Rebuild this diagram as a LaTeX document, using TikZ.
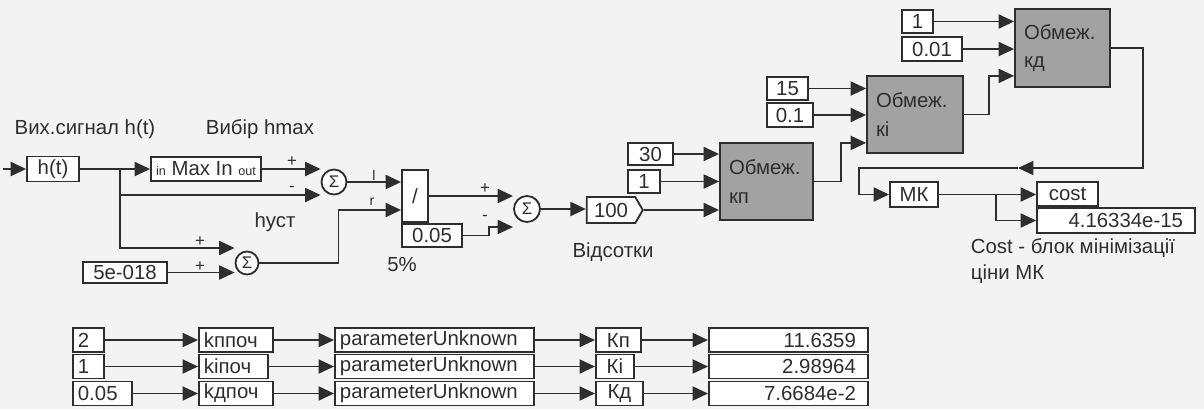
\documentclass[tikz,border=0pt]{standalone}
\usepackage{fontspec}
\setmainfont{Liberation Sans}
\usepackage{tikz}
\usetikzlibrary{arrows.meta,shapes.symbols}

\definecolor{bgc}{HTML}{F3F3F3}
\definecolor{lnc}{HTML}{2E2E2E}
\definecolor{blkgray}{HTML}{A2A2A2}
\newcommand{\pxu}{0.25mm}

\tikzset{
  bx/.style 2 args={draw=lnc, line width=1.3pt, fill=white, inner sep=0pt,
    minimum width=#1*\pxu, minimum height=#2*\pxu},
  blk/.style 2 args={bx={#1}{#2}, text width=(#1-10)*\pxu, align=center},
  disp/.style 2 args={bx={#1}{#2}, text width=(#1-24)*\pxu, align=right},
  obm/.style 2 args={bx={#1}{#2}, fill=blkgray, text width=(#1-18)*\pxu, align=left,
    font=\fontsize{14.5}{20}\selectfont},
  sumc/.style={draw=lnc, line width=1.3pt, fill=white, circle, inner sep=0pt,
    minimum size=#1*\pxu, font=\fontsize{12}{12}\selectfont},
  lbl/.style={inner sep=0pt},
  sgn/.style={inner sep=0pt, font=\fontsize{12}{12}\selectfont},
  port/.style={inner sep=0pt, font=\fontsize{10}{10}\selectfont}
}

\begin{document}
\begin{tikzpicture}[x=0.25mm, y=-0.25mm, color=lnc, line width=1.3pt,
    >={Triangle[length=11pt,width=10pt]}, font=\fontsize{14.5}{17}\selectfont]
  \fill[bgc] (0,0) rectangle (1204,409);
  \useasboundingbox (0,0) rectangle (1204,409);

  % signal, its maximum and the overshoot
  \node[lbl] (lbsig) at (85,129) {Вих.сигнал h(t)};
  \node[lbl] (lbmax) at (260,129) {Вибір hmax};
  \coordinate (hin) at (3,169);
  \coordinate (br) at (120,169);
  \node[blk={52}{25}] (ht) at (53,169) {h(t)};
  \node[bx={110}{24}] (mx) at (206,169)
    {{\fontsize{9}{9}\selectfont in} Max In {\fontsize{9}{9}\selectfont out}};
  \node[sumc=25] (sumA) at (334,182) {Σ};
  \node[sumc=23] (sumB) at (247,263) {Σ};
  \node[blk={84}{21}] (c5e) at (125,272.5) {5e-018};
  \node[lbl] (lbhust) at (275,222) {hуст};
  \node[blk={26}{52}] (dv) at (415,196) {/};
  \node[blk={60}{23}] (c005) at (432,235.5) {0.05};
  \node[lbl] (lbfive) at (402,265) {5\%};
  \node[sumc=26] (sumC) at (527,209) {Σ};
  \node[draw=lnc, fill=white, signal, signal to=east, signal pointer angle=120,
    inner sep=0pt, minimum width=56*\pxu, minimum height=26*\pxu] (pct) at (611,210) {100};
  \node[lbl] (lbvid) at (613,252) {Відсотки};

  \node[sgn] (pA1) at (292,162) {+};
  \node[sgn] (pA2) at (292,189) {-};
  \node[sgn] (pB1) at (200,242) {+};
  \node[sgn] (pB2) at (200,267) {+};
  \node[sgn] (pC1) at (485,189) {+};
  \node[sgn] (pC2) at (485,218) {-};
  \node[port] (pl) at (374,175) {l};
  \node[port] (pr) at (372,202) {r};

  \draw[->] (hin) -- (ht);
  \draw[->] (ht) -- (mx);
  \draw[->] (mx.east) -- (mx.east -| sumA.west);
  \draw[->] (br) |- ([yshift=-3.25mm]sumA.west);
  \draw[->] (br) |- ([yshift=3.75mm]sumB.west);
  \draw[->] (c5e) -- (c5e -| sumB.west);
  \draw[->] (sumB.east) -- ++(79,0) |- ([yshift=-3.5mm]dv.west);
  \draw[->] (sumA.east) -- (sumA.east -| dv.west);
  \draw[->] (dv.east) -- (dv.east -| sumC.west);
  \draw[->] (c005.east) -- ++(26,0) |- ([yshift=-4.5mm]sumC.west);
  \draw[->] (sumC.east) -- (sumC.east -| pct.west);

  % limit blocks and cost
  \node[blk={45}{22}] (c30) at (650.5,154) {30};
  \node[blk={32}{23}] (c1a) at (644,181.5) {1};
  \node[obm={93}{77}] (kp) at (766.5,181.5) {Обмеж.\\кп};
  \node[blk={41}{23}] (c15) at (787.5,88.5) {15};
  \node[blk={46}{24}] (c01) at (790,115) {0.1};
  \node[obm={96}{77}] (ki) at (915,114.5) {Обмеж.\\кі};
  \node[blk={31}{23}] (c1b) at (917.5,21.5) {1};
  \node[blk={60}{24}] (c001) at (932,49) {0.01};
  \node[obm={95}{78}] (kd) at (1062.5,48) {Обмеж.\\кд};
  \node[blk={48}{25}] (mk) at (914,194.5) {МК};
  \node[blk={61}{24}] (cost) at (1067.5,194) {cost};
  \node[disp={158}{25}] (dsp) at (1116,220.5) {4.16334e-15};
  \node[lbl, anchor=west, align=left, font=\fontsize{14.5}{18}\selectfont] (lbcost)
    at (970,261) {Cost - блок мінімізації\\ціни МК};
  \coordinate (fbk) at (1018,168);

  \draw[->] (c30) -- (c30 -| kp.west);
  \draw[->] (c1a) -- (c1a -| kp.west);
  \draw[->] (pct.east) -- (pct.east -| kp.west);
  \draw[->] (kp.east) -- ++(27,0) |- ([yshift=2.75mm]ki.south west);
  \draw[->] (c15) -- (c15 -| ki.west);
  \draw[->] (c01) -- (c01 -| ki.west);
  \draw[->] (ki.east) -- ++(25,0) |- ([yshift=3mm]kd.south west);
  \draw[->] (c1b) -- (c1b -| kd.west);
  \draw[->] (c001) -- (c001 -| kd.west);
  \draw[->] (kd.east) -- ++(32,0) |- (fbk);
  \draw[->] (fbk) -| ([xshift=-7.5mm]mk.west) -- (mk.west);
  \draw[->] (mk) -- (mk -| cost.west);
  \draw[->] (mk.east) -- ++(57,0) |- (dsp.west);

  % initial values and tuned parameters
  \foreach \i/\y/\v/\vw/\k/\kw/\K/\Kw/\res in {%
      1/340/2/31/kппоч/74/Кп/45/11.6359,
      2/366.5/1/31/kіпоч/69/Кі/38/2.98964,
      3/393.5/0.05/59/kдпоч/74/Кд/47/7.6684e-2}{
    \node[blk={\vw}{24}, anchor=west, align=left] (v\i) at (72,\y) {\v};
    \node[blk={\kw}{24}, anchor=west, align=left] (k\i) at (198,\y) {\k};
    \node[blk={199}{24}, anchor=west, align=left] (p\i) at (334,\y) {parameterUnknown};
    \node[blk={\Kw}{24}, anchor=west] (K\i) at (595,\y) {\K};
    \node[disp={159}{24}, anchor=west] (r\i) at (708,\y) {\res};
    \draw[->] (v\i) -- (k\i);
    \draw[->] (k\i) -- (p\i);
    \draw[->] (p\i) -- (K\i);
    \draw[->] (K\i) -- (r\i);
  }
\end{tikzpicture}
\end{document}
